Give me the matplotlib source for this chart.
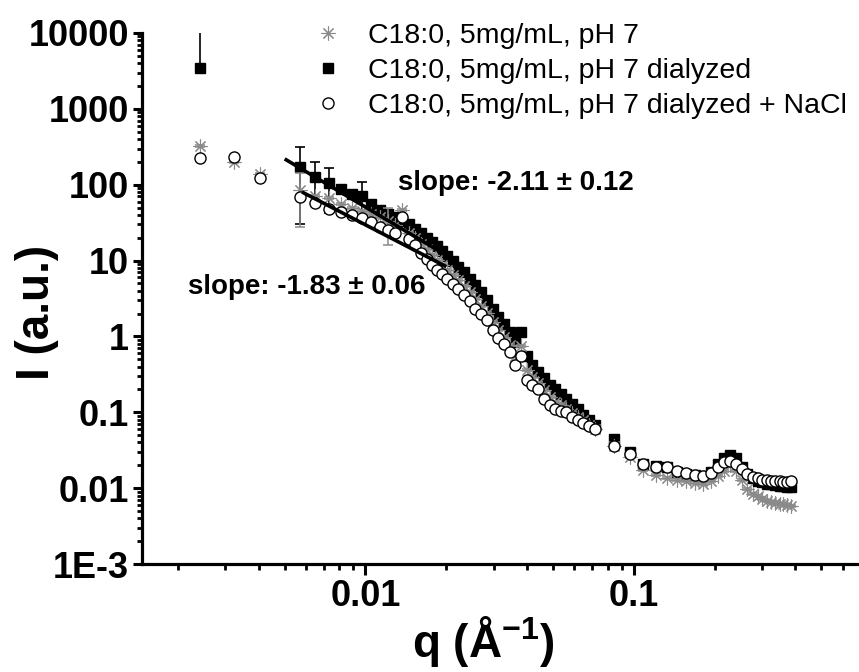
import numpy as np
import matplotlib.pyplot as plt
from matplotlib.lines import Line2D
from matplotlib.ticker import FixedLocator, LogLocator, NullFormatter

plt.rcParams['font.family'] = ['Liberation Sans', 'DejaVu Sans']
plt.rcParams['mathtext.fontset'] = 'custom'
plt.rcParams['mathtext.rm'] = 'Liberation Sans'
plt.rcParams['mathtext.bf'] = 'Liberation Sans:bold'

nan = np.nan

# q (1/A), same grid for all three samples
q = [0.00242, 0.00324, 0.00405, 0.00568, 0.0065, 0.0073, 0.0081, 0.0089, 0.0097, 0.0105,
     0.0113, 0.0121, 0.0129, 0.0137, 0.0145, 0.0153, 0.0161, 0.0169, 0.0177, 0.0185,
     0.0193, 0.0201, 0.0211, 0.0222, 0.0233, 0.0245, 0.0257, 0.0270, 0.0284, 0.0298,
     0.0313, 0.0329, 0.0345, 0.0362, 0.0380, 0.0399, 0.0419, 0.0440, 0.0462, 0.0485,
     0.0509, 0.0534, 0.0561, 0.0589, 0.0618, 0.0649, 0.0681, 0.0715, 0.0845, 0.0965,
     0.108, 0.121, 0.133, 0.145, 0.157, 0.169, 0.181, 0.193, 0.205, 0.217,
     0.229, 0.241, 0.253, 0.265, 0.277, 0.289, 0.301, 0.313, 0.325, 0.337,
     0.349, 0.361, 0.373, 0.385]

# C18:0, 5mg/mL, pH 7
I_ph7 = [320, 200, 140, 86, 72, 66, 56, 50, 45, 41,
         37, 33, 29, 46, 23, 20, 16.5, 14, 12, 10.3,
         8.8, 7.6, 6.5, 5.5, 4.6, 3.8, 3.1, 2.55, 2.05, 1.55,
         1.2, 0.98, 0.78, 0.56, 0.75, 0.36, 0.29, 0.245, 0.195, 0.16,
         0.138, 0.125, 0.112, 0.098, 0.087, 0.078, 0.069, 0.06, 0.036, 0.026,
         0.0175, 0.015, 0.0135, 0.013, 0.0125, 0.0118, 0.0115, 0.0125, 0.0145, 0.017,
         0.0205, 0.017, 0.013, 0.0098, 0.0085, 0.0078, 0.0072, 0.0068, 0.0066, 0.0064,
         0.0062, 0.0061, 0.006, 0.0059]

# C18:0, 5mg/mL, pH 7 dialyzed
I_dial = [3500, nan, nan, 173, 127, 105, 88, 76, 72, 56,
          46, 41, 37, 33, 30, 26, 23, 20, 17.5, 15.5,
          13.5, 11.5, 9.8, 8.3, 7.0, 5.8, 4.7, 3.8, 3.0, 2.3,
          1.8, 1.45, 1.13, 0.85, 1.15, 0.55, 0.42, 0.34, 0.28, 0.23,
          0.20, 0.175, 0.15, 0.13, 0.11, 0.092, 0.08, 0.068, 0.044, 0.030,
          0.021, 0.0193, 0.019, 0.0165, 0.0155, 0.0148, 0.0143, 0.0165, 0.021, 0.025,
          0.0275, 0.025, 0.019, 0.0155, 0.0135, 0.0125, 0.012, 0.0115, 0.0112, 0.011,
          0.0108, 0.0106, 0.0105, 0.0105]

# C18:0, 5mg/mL, pH 7 dialyzed + NaCl
I_nacl = [222, 235, 123, 68, 57, 48, 44, 40, 36, 32,
          28, 25, 23, 37, 19, 16, 12.5, 10.5, 8.8, 7.6,
          6.6, 5.8, 4.9, 4.2, 3.5, 2.9, 2.3, 2.0, 1.65, 1.2,
          0.95, 0.8, 0.63, 0.42, 0.55, 0.27, 0.23, 0.2, 0.15, 0.125,
          0.11, 0.105, 0.1, 0.087, 0.078, 0.072, 0.065, 0.06, 0.036, 0.028,
          0.021, 0.019, 0.019, 0.0168, 0.016, 0.015, 0.0145, 0.016, 0.019, 0.022,
          0.023, 0.021, 0.018, 0.0155, 0.014, 0.0135, 0.013, 0.0128, 0.0125, 0.0124,
          0.0123, 0.0122, 0.0122, 0.0123]

# the few large error bars (index: (lower, upper)); the rest are tiny
dial_big_err = {0: (0, 7000), 3: (143, 143), 4: (73, 73), 5: (63, 63), 8: (35, 35)}
ph7_big_err = {3: (58, 58), 11: (17, 17)}
small_err = 0.03

# power-law fits
fit_dial_q = [0.0050, 0.021]
fit_dial = (-2.11, -2.515)   # slope, log10 prefactor
fit_nacl_q = [0.0058, 0.020]
fit_nacl = (-1.83, -2.189)

labels = ['C18:0, 5mg/mL, pH 7', 'C18:0, 5mg/mL, pH 7 dialyzed',
          'C18:0, 5mg/mL, pH 7 dialyzed + NaCl']
ytick_vals = [1e-3, 1e-2, 1e-1, 1, 10, 100, 1000, 10000]
ytick_labels = ['1E-3', '0.01', '0.1', '1', '10', '100', '1000', '10000']
xtick_vals = [0.01, 0.1]
xtick_labels = ['0.01', '0.1']


def err_arrays(vals, big):
    vals = np.asarray(vals, dtype=float)
    lo = vals * small_err
    hi = vals * small_err
    for i, (l, h) in big.items():
        lo[i], hi[i] = l, h
    return [lo, hi]


gray = '#8a8a8a'
fig = plt.figure(figsize=(8.59, 6.72), dpi=100)
ax = fig.add_axes([0.1653, 0.1607, 0.8347, 0.7902])
qa = np.array(q)

ax.errorbar(qa, I_dial, yerr=err_arrays(I_dial, dial_big_err), fmt='s', ms=7.5,
            color='black', ecolor='black', elinewidth=1.2, capsize=3.5, capthick=1.2, zorder=2)
ax.errorbar(qa, I_ph7, yerr=err_arrays(I_ph7, ph7_big_err), fmt='none',
            ecolor=gray, elinewidth=1.1, capsize=3.5, capthick=1.1, zorder=3)
ax.plot(qa, I_ph7, linestyle='none', marker=(8, 2, 0), ms=10, mew=0.8, color=gray, zorder=3)
ax.errorbar(qa, I_nacl, yerr=err_arrays(I_nacl, {}), fmt='o', ms=8, mfc='white', mec='black',
            mew=1.0, ecolor='black', elinewidth=1.0, capsize=3.5, capthick=1.0, zorder=4)

for fq, (slope, loga) in [(fit_dial_q, fit_dial), (fit_nacl_q, fit_nacl)]:
    fq = np.array(fq)
    ax.plot(fq, 10 ** loga * fq ** slope, color='black', lw=2.6, zorder=5,
            solid_capstyle='butt')

ax.set_xscale('log')
ax.set_yscale('log')
ax.set_xlim(0.00147, 0.69)
ax.set_ylim(1e-3, 1e4)

ax.yaxis.set_major_locator(FixedLocator(ytick_vals))
ax.set_yticklabels(ytick_labels)
ax.yaxis.set_minor_locator(LogLocator(base=10, subs=np.arange(2, 10), numticks=20))
ax.yaxis.set_minor_formatter(NullFormatter())
ax.xaxis.set_major_locator(FixedLocator(xtick_vals))
ax.set_xticklabels(xtick_labels)
ax.xaxis.set_minor_locator(LogLocator(base=10, subs=np.arange(2, 10), numticks=20))
ax.xaxis.set_minor_formatter(NullFormatter())

for s in ['top', 'right']:
    ax.spines[s].set_visible(False)
for s in ['left', 'bottom']:
    ax.spines[s].set_linewidth(2.3)
ax.tick_params(axis='both', which='major', direction='out', width=2.2,
               labelsize=26, pad=3)
ax.tick_params(axis='y', which='major', length=6.5)
ax.tick_params(axis='x', which='major', length=8)
ax.tick_params(axis='y', which='minor', direction='out', length=3.5, width=2.0)
ax.tick_params(axis='x', which='minor', direction='out', length=4.5, width=2.0)
for t in ax.get_xticklabels() + ax.get_yticklabels():
    t.set_fontweight('bold')

handles = [Line2D([], [], linestyle='none', marker=(8, 2, 0), ms=10, mew=0.8, color=gray),
           Line2D([], [], linestyle='none', marker='s', ms=7, color='black'),
           Line2D([], [], linestyle='none', marker='o', ms=8, mfc='white', mec='black', mew=1.0)]
fig.legend(handles, labels, loc='upper left', bbox_to_anchor=(0.3655, 0.966),
           frameon=False, fontsize=20.5, handlelength=1.0, handletextpad=0.9,
           labelspacing=0.31, borderpad=0, borderaxespad=0)

fig.text(398 / 859, 1 - 183 / 672, 'slope: -2.11 ± 0.12', fontsize=20, fontweight='bold',
         ha='left', va='center')
fig.text(188 / 859, 1 - 287 / 672, 'slope: -1.83 ± 0.06', fontsize=20, fontweight='bold',
         ha='left', va='center')

fig.text(37 / 859, 1 - 312 / 672, 'I (a.u.)', rotation=90, fontsize=33, fontweight='bold',
         ha='center', va='center')
fig.text(483 / 859, 15 / 672, r'q (Å$^{\mathbf{-1}}$)', fontsize=33, fontweight='bold',
         ha='center', va='baseline')

fig.savefig('out.png', dpi=100)
